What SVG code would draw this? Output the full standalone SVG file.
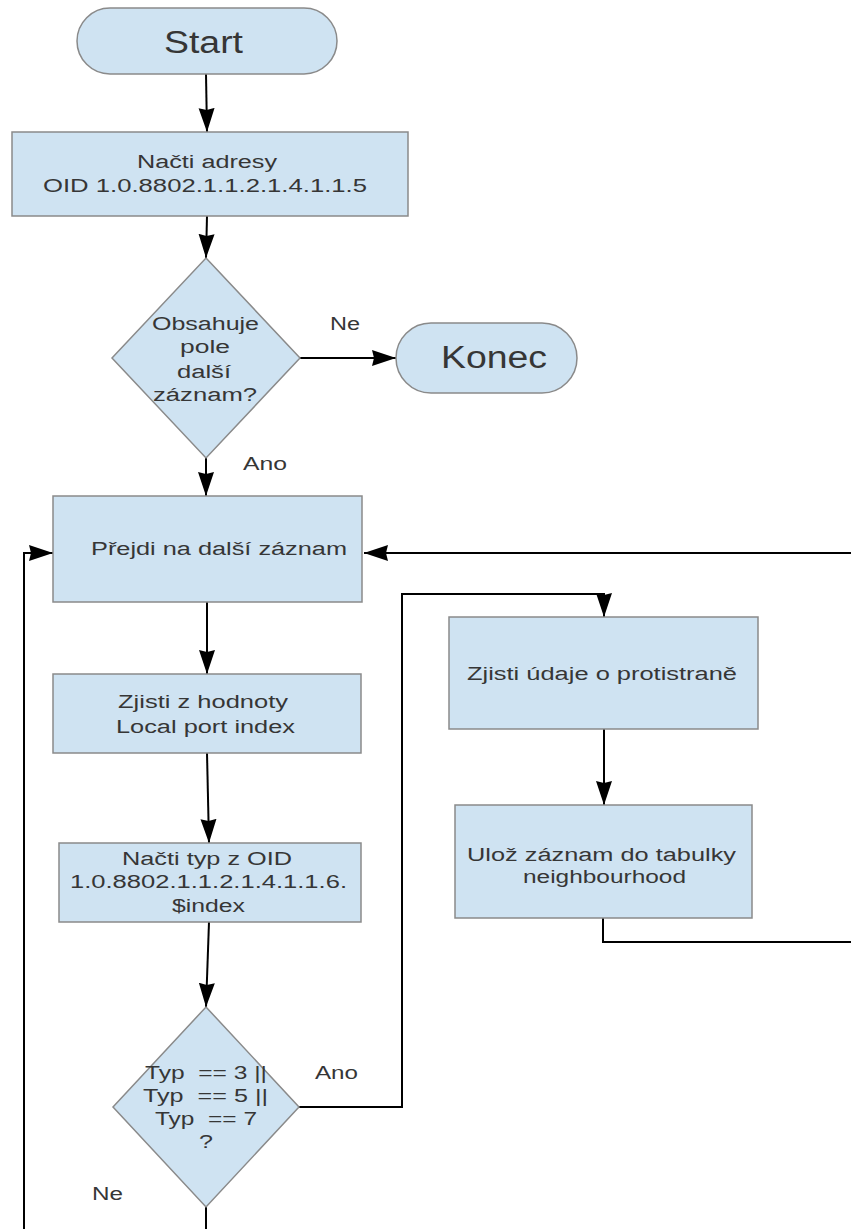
<svg xmlns="http://www.w3.org/2000/svg" width="851" height="1229" viewBox="0 0 851 1229">
  <defs>
    <style>
      .node { fill: #cfe3f2; stroke: #8a8a8a; stroke-width: 1.5; }
      .conn { fill: none; stroke: #000; stroke-width: 2; }
      text { font-family: "Liberation Sans", Arial, sans-serif; fill: #363636; font-size: 18px; white-space: pre; }
      .big { font-size: 31px; }
    </style>
    <marker id="arrow" markerUnits="userSpaceOnUse" markerWidth="24" markerHeight="18" refX="24" refY="9" orient="auto">
      <path d="M0,1 L24,9 L0,17 L2,9 z" fill="#000"/>
    </marker>
  </defs>

  <!-- connectors -->
  <g id="connectors">
    <path class="conn" d="M206,74 L207,132" marker-end="url(#arrow)"/>
    <path class="conn" d="M207,216 L206,258" marker-end="url(#arrow)"/>
    <path class="conn" d="M300,358 H396" marker-end="url(#arrow)"/>
    <path class="conn" d="M206,458 V496" marker-end="url(#arrow)"/>
    <path class="conn" d="M207,602 V674" marker-end="url(#arrow)"/>
    <path class="conn" d="M207,753 L209,843" marker-end="url(#arrow)"/>
    <path class="conn" d="M209,922 L206,1007" marker-end="url(#arrow)"/>
    <path class="conn" d="M299,1107 H402 V594 H604 V617" marker-end="url(#arrow)"/>
    <path class="conn" d="M604,729 V805" marker-end="url(#arrow)"/>
    <path class="conn" d="M603,918 V942 H880 V553 H364" marker-end="url(#arrow)"/>
    <path class="conn" d="M206,1207 V1250 H24 V553 H53" marker-end="url(#arrow)"/>
  </g>

  <!-- edge labels -->
  <g id="labels">
    <text x="330" y="330" textLength="30" lengthAdjust="spacingAndGlyphs">Ne</text>
    <text x="243" y="470" textLength="44" lengthAdjust="spacingAndGlyphs">Ano</text>
    <text x="315" y="1079" textLength="43" lengthAdjust="spacingAndGlyphs">Ano</text>
    <text x="92" y="1200" textLength="31" lengthAdjust="spacingAndGlyphs">Ne</text>
  </g>

  <g id="start">
    <rect class="node" x="77" y="8" width="260" height="66" rx="33" ry="33"/>
    <text class="big" x="164" y="53" textLength="79" lengthAdjust="spacingAndGlyphs">Start</text>
  </g>

  <g id="load-addresses">
    <rect class="node" x="12" y="132" width="396" height="84"/>
    <text x="137" y="168" textLength="140" lengthAdjust="spacingAndGlyphs">Načti adresy</text>
    <text x="43" y="192" textLength="324" lengthAdjust="spacingAndGlyphs">OID 1.0.8802.1.1.2.1.4.1.1.5</text>
  </g>

  <g id="has-next">
    <polygon class="node" points="206,258 300,358 206,458 112,358"/>
    <text x="152" y="330" textLength="107" lengthAdjust="spacingAndGlyphs">Obsahuje</text>
    <text x="180" y="353" textLength="50" lengthAdjust="spacingAndGlyphs">pole</text>
    <text x="177" y="378" textLength="54" lengthAdjust="spacingAndGlyphs">další</text>
    <text x="153" y="401" textLength="104" lengthAdjust="spacingAndGlyphs">záznam?</text>
  </g>

  <g id="end">
    <rect class="node" x="396" y="323" width="181" height="70" rx="35" ry="35"/>
    <text class="big" x="441" y="368" textLength="106" lengthAdjust="spacingAndGlyphs">Konec</text>
  </g>

  <g id="next-record">
    <rect class="node" x="53" y="496" width="309" height="106"/>
    <text x="91" y="555" textLength="256" lengthAdjust="spacingAndGlyphs">Přejdi na další záznam</text>
  </g>

  <g id="local-port">
    <rect class="node" x="53" y="674" width="308" height="79"/>
    <text x="118" y="708" textLength="170" lengthAdjust="spacingAndGlyphs">Zjisti z hodnoty</text>
    <text x="116" y="733" textLength="179" lengthAdjust="spacingAndGlyphs">Local port index</text>
  </g>

  <g id="load-type">
    <rect class="node" x="59" y="843" width="302" height="79"/>
    <text x="122" y="865" textLength="170" lengthAdjust="spacingAndGlyphs">Načti typ z OID</text>
    <text x="70" y="888" textLength="277" lengthAdjust="spacingAndGlyphs">1.0.8802.1.1.2.1.4.1.1.6.</text>
    <text x="172" y="912" textLength="73" lengthAdjust="spacingAndGlyphs">$index</text>
  </g>

  <g id="type-check">
    <polygon class="node" points="206,1007 299,1107 206,1207 113,1107"/>
    <text x="145" y="1079" textLength="122" lengthAdjust="spacingAndGlyphs">Typ  == 3 ||</text>
    <text x="143" y="1102" textLength="125" lengthAdjust="spacingAndGlyphs">Typ  == 5 ||</text>
    <text x="155" y="1125" textLength="102" lengthAdjust="spacingAndGlyphs">Typ  == 7</text>
    <text x="199" y="1148" textLength="14" lengthAdjust="spacingAndGlyphs">?</text>
  </g>

  <g id="peer-info">
    <rect class="node" x="449" y="617" width="309" height="112"/>
    <text x="467" y="680" textLength="270" lengthAdjust="spacingAndGlyphs">Zjisti údaje o protistraně</text>
  </g>

  <g id="store-record">
    <rect class="node" x="455" y="805" width="297" height="113"/>
    <text x="467" y="861" textLength="269" lengthAdjust="spacingAndGlyphs">Ulož záznam do tabulky</text>
    <text x="523" y="883" textLength="163" lengthAdjust="spacingAndGlyphs">neighbourhood</text>
  </g>
</svg>
